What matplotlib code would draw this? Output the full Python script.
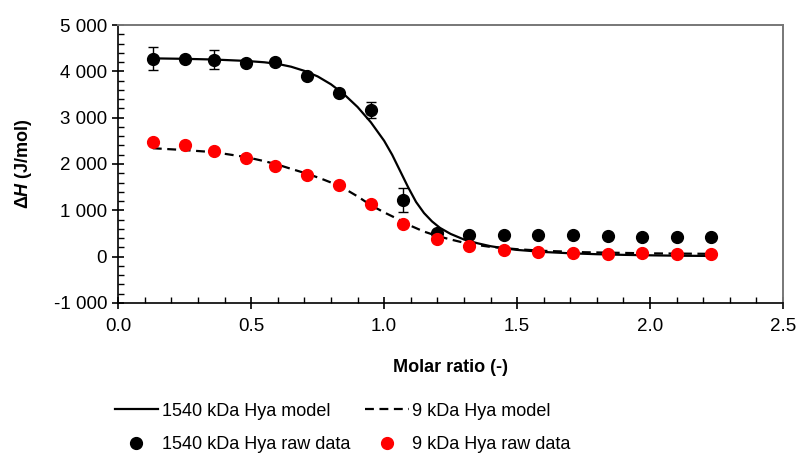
import matplotlib
matplotlib.use("Agg")
import matplotlib.pyplot as plt
from matplotlib.ticker import MultipleLocator, FuncFormatter

plt.rcParams['font.family'] = ['Liberation Sans', 'DejaVu Sans']
plt.rcParams['mathtext.fontset'] = 'custom'
plt.rcParams['mathtext.rm'] = 'Liberation Sans'
plt.rcParams['mathtext.it'] = 'Liberation Sans:italic'
plt.rcParams['mathtext.bf'] = 'Liberation Sans:bold'
plt.rcParams['mathtext.bfit'] = 'Liberation Sans:bold:italic'

# raw data
molar_ratio = [0.13, 0.25, 0.36, 0.48, 0.59, 0.71, 0.83, 0.95, 1.07,
               1.20, 1.32, 1.45, 1.58, 1.71, 1.84, 1.97, 2.10, 2.23]
dh_1540 = [4270, 4270, 4250, 4180, 4200, 3910, 3530, 3170, 1225,
           520, 475, 470, 465, 460, 435, 430, 430, 420]
err_1540 = [250, 60, 200, 60, 60, 60, 60, 170, 260,
            40, 40, 40, 40, 40, 40, 40, 40, 40]
dh_9 = [2470, 2400, 2290, 2120, 1965, 1765, 1555, 1140, 705,
        380, 237, 145, 108, 80, 58, 80, 58, 58]

# model curves
model_x_1540 = [0.13, 0.25, 0.36, 0.48, 0.55, 0.60, 0.65, 0.70, 0.75, 0.80,
                0.85, 0.90, 0.95, 1.00, 1.03, 1.06, 1.09, 1.12, 1.15, 1.18,
                1.21, 1.25, 1.30, 1.35, 1.40, 1.45, 1.50, 1.60, 1.70, 1.80,
                1.90, 2.00, 2.10, 2.23]
model_y_1540 = [4280, 4270, 4255, 4225, 4195, 4160, 4100, 4010, 3890, 3720,
                3500, 3230, 2900, 2500, 2200, 1850, 1500, 1180, 940, 760,
                620, 490, 370, 290, 225, 180, 145, 100, 72, 52,
                38, 28, 20, 14]
model_x_9 = [0.13, 0.25, 0.36, 0.48, 0.55, 0.60, 0.65, 0.71, 0.76, 0.80,
             0.85, 0.90, 0.95, 1.00, 1.05, 1.10, 1.15, 1.20, 1.25, 1.30,
             1.35, 1.40, 1.50, 1.60, 1.75, 2.00, 2.23]
model_y_9 = [2340, 2300, 2255, 2150, 2060, 1985, 1895, 1790, 1690, 1600,
             1470, 1300, 1110, 955, 815, 665, 540, 445, 370, 300,
             250, 210, 160, 125, 95, 70, 60]

fig = plt.figure(figsize=(7.99, 4.59), dpi=100)
ax = fig.add_axes([0.148, 0.340, 0.832, 0.6055])

ax.plot(model_x_1540, model_y_1540, color='black', linewidth=1.6,
        label='1540 kDa Hya model', zorder=2)
ax.plot(model_x_9, model_y_9, color='black', linewidth=1.6, dashes=(4, 2.5),
        label='9 kDa Hya model', zorder=2)
ax.errorbar(molar_ratio, dh_1540, yerr=err_1540, fmt='none', ecolor='black',
            elinewidth=1, capsize=3.5, zorder=3)
ax.plot(molar_ratio, dh_1540, 'o', color='black', markersize=8.5,
        label='1540 kDa Hya raw data', zorder=4)
ax.plot(molar_ratio, dh_9, 'o', color='#ff0000', markersize=8.5,
        label='9 kDa Hya raw data', zorder=4)

ax.set_xlim(0, 2.5)
ax.set_ylim(-1000, 5000)
ax.xaxis.set_major_locator(MultipleLocator(0.5))
ax.xaxis.set_minor_locator(MultipleLocator(0.1))
ax.yaxis.set_major_locator(MultipleLocator(1000))
ax.yaxis.set_minor_locator(MultipleLocator(200))
ax.xaxis.set_major_formatter(FuncFormatter(lambda v, p: f"{v:.1f}"))
ax.yaxis.set_major_formatter(
    FuncFormatter(lambda v, p: f"{int(round(v)):,}".replace(",", " ")))

ax.tick_params(which='major', direction='inout', length=8, width=1.2,
               labelsize=13.5, pad=4)
ax.tick_params(axis='x', which='major', pad=7)
ax.tick_params(which='minor', direction='in', length=4, width=1.0)

for side in ['left', 'bottom']:
    ax.spines[side].set_color('black')
    ax.spines[side].set_linewidth(1.2)
for side in ['top', 'right']:
    ax.spines[side].set_color('#777777')
    ax.spines[side].set_linewidth(1.4)

ax.set_xlabel('Molar ratio (-)', fontsize=13, fontweight='bold', labelpad=17)
ax.set_ylabel(r'$\mathbf{\Delta}\mathbfit{H}$ (J/mol)', fontsize=13,
              fontweight='bold')
ax.yaxis.set_label_coords(-0.127, 0.5)

handles, labels = ax.get_legend_handles_labels()
order = [0, 2, 1, 3]
fig.legend([handles[i] for i in order], [labels[i] for i in order],
           loc='lower center', bbox_to_anchor=(0.429, -0.022), ncol=2,
           frameon=False, fontsize=13, handlelength=2.4, handletextpad=0.2,
           columnspacing=0.85, labelspacing=0.9)

fig.savefig('out.png', dpi=100)
